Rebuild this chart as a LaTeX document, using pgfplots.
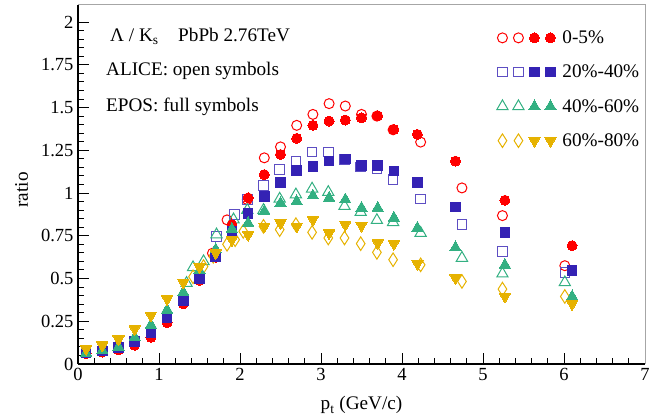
\documentclass[border=0pt]{standalone}
\usepackage{fontspec}
\setmainfont{Liberation Serif}
\usepackage{pgfplots}
\pgfplotsset{compat=1.18}
\definecolor{cRed}{RGB}{255,0,0}
\definecolor{cBlue}{RGB}{52,34,180}
\definecolor{cGreen}{RGB}{51,176,130}
\definecolor{cYellow}{RGB}{230,178,0}
\tikzset{
  aR/.style={only marks, mark=o, mark size=5pt, mark options={draw=cRed, line width=1pt}},
  aB/.style={only marks, mark=square, mark size=4.8pt, mark options={draw=cBlue!80, line width=1pt}},
  aG/.style={only marks, mark=triangle, mark size=6.5pt, mark options={draw=cGreen, line width=1pt}},
  aY/.style={only marks, mark=diamond, mark size=6.8pt, mark options={draw=cYellow, line width=1pt, xscale=0.85}},
  eR/.style={only marks, mark=*, mark size=5pt, mark options={draw=cRed, fill=cRed, line width=0pt}},
  eB/.style={only marks, mark=square*, mark size=4.8pt, mark options={draw=cBlue, fill=cBlue, line width=0pt}},
  eG/.style={only marks, mark=triangle*, mark size=6.5pt, mark options={draw=cGreen, fill=cGreen, line width=0pt}},
  eY/.style={only marks, mark=triangle*, mark size=6.5pt, mark options={draw=cYellow, fill=cYellow, line width=0pt, rotate=180}},
}
\newcommand{\fs}{\fontsize{18.5}{21}\selectfont}
\newcommand{\ft}{\fontsize{19.2}{22}\selectfont}
\begin{document}
\begin{tikzpicture}
\begin{axis}[name=ax, scale only axis, width=567pt, height=359pt,
  xmin=0, xmax=7, ymin=0, ymax=2.1,
  axis x line*=bottom, axis y line*=left,
  axis line style={line width=1.4pt, black},
  tick align=inside, major tick length=11pt, minor tick length=6pt,
  every tick/.style={black, line width=1pt},
  xtick={0,1,2,3,4,5,6,7}, xticklabels={0,1,2,3,4,5,6,7},
  ytick={0,0.25,0.5,0.75,1,1.25,1.5,1.75,2},
  yticklabels={0,0.25,0.5,0.75,1,1.25,1.5,1.75,2},
  minor x tick num=4, minor y tick num=4,
  tick label style={font=\fs},
  xticklabel style={yshift=-1pt},
  yticklabel style={xshift=-1pt},
  xlabel={p\textsubscript{t} (GeV/c)}, ylabel={ratio},
  every axis x label/.style={at={(rel axis cs:0.5,0)}, anchor=base, yshift=-46pt, font=\ft},
  every axis y label/.style={at={(rel axis cs:-0.0993,0.485)}, anchor=center, rotate=90, font=\ft},
  clip=false,
  legend style={draw=none, fill=none, at={(rel axis cs:0.733,0.94)}, anchor=north west, font=\ft, row sep=16pt},
  legend cell align=left,
]
% legend images
\addlegendimage{legend image code/.code={
  \path[draw=none] (0pt,0pt) -- (58pt,0pt);
  \draw[aR] plot coordinates {(0pt,0pt) (16pt,0pt)};
  \draw[eR] plot coordinates {(32pt,0pt) (48pt,0pt)};}}
\addlegendentry{0-5\%}
\addlegendimage{legend image code/.code={
  \path[draw=none] (0pt,0pt) -- (58pt,0pt);
  \draw[aB] plot coordinates {(0pt,0pt) (16pt,0pt)};
  \draw[eB] plot coordinates {(32pt,0pt) (48pt,0pt)};}}
\addlegendentry{20\%-40\%}
\addlegendimage{legend image code/.code={
  \path[draw=none] (0pt,0pt) -- (58pt,0pt);
  \draw[aG] plot coordinates {(0pt,0pt) (16pt,0pt)};
  \draw[eG] plot coordinates {(32pt,0pt) (48pt,0pt)};}}
\addlegendentry{40\%-60\%}
\addlegendimage{legend image code/.code={
  \path[draw=none] (0pt,0pt) -- (58pt,0pt);
  \draw[aY] plot coordinates {(0pt,0pt) (16pt,0pt)};
  \draw[eY] plot coordinates {(32pt,0pt) (48pt,0pt)};}}
\addlegendentry{60\%-80\%}
% ALICE open symbols
\addplot[aR, forget plot] coordinates {(1.66,0.648) (1.84,0.843) (2.09,0.962) (2.30,1.206) (2.50,1.27) (2.70,1.396) (2.90,1.46) (3.10,1.523) (3.30,1.509) (3.50,1.46) (3.69,1.45) (3.89,1.37) (4.23,1.298) (4.74,1.03) (5.24,0.868) (6.01,0.575)};
\addplot[aB, forget plot] coordinates {(1.71,0.745) (1.93,0.876) (2.09,0.962) (2.29,1.044) (2.49,1.138) (2.69,1.187) (2.89,1.24) (3.09,1.24) (3.29,1.196) (3.49,1.153) (3.69,1.145) (3.89,1.079) (4.23,0.966) (4.74,0.815) (5.24,0.659) (6.01,0.535)};
\addplot[aG, forget plot] coordinates {(1.34,0.473) (1.42,0.565) (1.55,0.60) (1.71,0.757) (1.92,0.845) (2.09,0.90) (2.29,0.90) (2.49,0.966) (2.69,0.991) (2.89,1.025) (3.09,1.005) (3.29,0.923) (3.49,0.888) (3.69,0.841) (3.89,0.829) (4.23,0.766) (4.74,0.62) (5.24,0.528) (6.01,0.477)};
\addplot[aY, forget plot] coordinates {(1.42,0.51) (1.55,0.57) (1.67,0.63) (1.84,0.70) (1.94,0.727) (2.04,0.776) (2.29,0.805) (2.49,0.786) (2.69,0.815) (2.89,0.77) (3.09,0.737) (3.29,0.737) (3.49,0.704) (3.69,0.653) (3.89,0.61) (4.23,0.58) (4.74,0.483) (5.24,0.438) (6.01,0.395)};
% EPOS full symbols
\addplot[eR, forget plot] coordinates {(0.1,0.06) (0.3,0.07) (0.5,0.082) (0.7,0.11) (0.9,0.156) (1.1,0.242) (1.3,0.352) (1.5,0.49) (1.7,0.625) (1.9,0.815) (2.1,0.972) (2.3,1.108) (2.5,1.226) (2.7,1.32) (2.9,1.396) (3.1,1.421) (3.3,1.427) (3.5,1.44) (3.7,1.452) (3.9,1.372) (4.19,1.343) (4.66,1.187) (5.27,0.958) (6.1,0.692)};
\addplot[eB, forget plot] coordinates {(0.1,0.065) (0.3,0.076) (0.5,0.095) (0.7,0.13) (0.9,0.186) (1.1,0.268) (1.3,0.372) (1.5,0.50) (1.7,0.63) (1.9,0.776) (2.1,0.88) (2.3,0.981) (2.5,1.06) (2.7,1.132) (2.9,1.157) (3.1,1.187) (3.3,1.2) (3.5,1.161) (3.7,1.161) (3.9,1.128) (4.19,1.06) (4.66,0.919) (5.27,0.77) (6.1,0.547)};
\addplot[eG, forget plot] coordinates {(0.1,0.065) (0.3,0.08) (0.5,0.10) (0.7,0.157) (0.9,0.229) (1.1,0.317) (1.3,0.42) (1.5,0.547) (1.7,0.67) (1.9,0.79) (2.1,0.825) (2.3,0.893) (2.5,0.942) (2.7,0.952) (2.9,0.985) (3.1,0.972) (3.3,0.962) (3.5,0.913) (3.7,0.913) (3.9,0.855) (4.19,0.796) (4.66,0.682) (5.27,0.58) (6.1,0.395)};
\addplot[eY, forget plot] coordinates {(0.1,0.09) (0.3,0.11) (0.5,0.145) (0.7,0.205) (0.9,0.285) (1.1,0.381) (1.3,0.478) (1.5,0.568) (1.7,0.65) (1.9,0.727) (2.1,0.757) (2.3,0.805) (2.5,0.825) (2.7,0.805) (2.9,0.845) (3.1,0.766) (3.3,0.815) (3.5,0.81) (3.7,0.708) (3.9,0.704) (4.19,0.587) (4.66,0.503) (5.27,0.395) (6.1,0.352)};
% frame
\draw[gray!70, line width=1pt] (rel axis cs:0,1) -- (rel axis cs:1,1) -- (rel axis cs:1,0);
% texts
\node[anchor=base west, font=\ft, inner sep=0pt] at (axis cs:0.395,1.889) {Λ / K\textsubscript{s}};
\node[anchor=base west, font=\ft, inner sep=0pt] at (axis cs:1.235,1.889) {PbPb 2.76TeV};
\node[anchor=base west, font=\ft, inner sep=0pt] at (axis cs:0.346,1.689) {ALICE: open symbols};
\node[anchor=base west, font=\ft, inner sep=0pt] at (axis cs:0.346,1.478) {EPOS: full symbols};
\end{axis}
\pgfresetboundingbox
\path[use as bounding box] ([xshift=-78pt,yshift=-52pt]ax.south west) rectangle ([xshift=12pt,yshift=5pt]ax.north east);
\end{tikzpicture}
\end{document}
